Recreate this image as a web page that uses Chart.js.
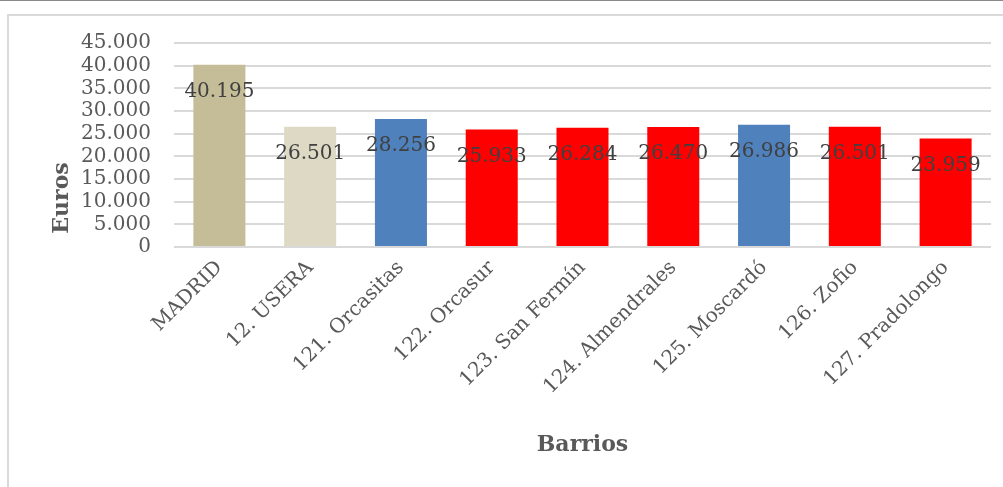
<!DOCTYPE html>
<html>
<head>
<meta charset="utf-8">
<script src="https://cdn.jsdelivr.net/npm/chart.js@4/dist/chart.umd.min.js"></script>
<style>
  body { margin: 0; background: #fff; }
  #wrap { position: relative; width: 1003px; height: 487px; overflow: hidden; }
  #topline { position: absolute; left: 0; top: 0; width: 1003px; height: 1px; background: #888; }
  #frame { position: absolute; left: 7px; top: 14px; width: 1100px; height: 600px;
           border-left: 2px solid #d9d9d9; border-top: 2px solid #d9d9d9; }
  canvas { position: absolute; left: 0; top: 0; }
</style>
</head>
<body>
<div id="wrap">
  <div id="topline"></div>
  <div id="frame"></div>
  <canvas id="chart" width="1003" height="487"></canvas>
</div>
<script>
const barrios = ["MADRID", "12. USERA", "121. Orcasitas", "122. Orcasur", "123. San Fermín",
  "124. Almendrales", "125. Moscardó", "126. Zofio", "127. Pradolongo"];
const renta = [40195, 26501, 28256, 25933, 26284, 26470, 26986, 26501, 23959];
const colores = ["#C4BD97", "#DDD9C4", "#4F81BD", "#FF0000", "#FF0000",
  "#FF0000", "#4F81BD", "#FF0000", "#FF0000"];

const serif = "'DejaVu Serif', serif";
const fmt = (v) => Math.round(v).toString().replace(/\B(?=(\d{3})+(?!\d))/g, ".");

// value labels just inside the bar top, like Excel's "inside end"
const valueLabels = {
  id: "valueLabels",
  afterDatasetsDraw(chart) {
    const ctx = chart.ctx;
    const meta = chart.getDatasetMeta(0);
    ctx.save();
    ctx.font = "20px " + serif;
    ctx.fillStyle = "#404040";
    ctx.textAlign = "center";
    ctx.textBaseline = "middle";
    meta.data.forEach((bar, i) => {
      ctx.fillText(fmt(renta[i]), bar.x, bar.y + 27);
    });
    ctx.restore();
  }
};

// axis titles, placed where the original has them
const axisTitles = {
  id: "axisTitles",
  afterDraw(chart) {
    const ctx = chart.ctx;
    const area = chart.chartArea;
    ctx.save();
    ctx.font = "bold 22px " + serif;
    ctx.fillStyle = "#595959";
    ctx.textAlign = "center";
    ctx.textBaseline = "middle";
    ctx.fillText("Barrios", (area.left + area.right) / 2, 445);
    ctx.translate(62, 198);
    ctx.rotate(-Math.PI / 2);
    ctx.fillText("Euros", 0, 0);
    ctx.restore();
  }
};

new Chart(document.getElementById("chart"), {
  type: "bar",
  data: {
    labels: barrios,
    datasets: [{
      data: renta,
      backgroundColor: colores,
      borderWidth: 0,
      barPercentage: 0.573,
      categoryPercentage: 1
    }]
  },
  options: {
    responsive: false,
    animation: false,
    layout: { padding: { left: 20, right: 12, top: 43, bottom: 0 } },
    plugins: { legend: { display: false }, tooltip: { enabled: false } },
    scales: {
      x: {
        grid: { display: false },
        border: { display: false },
        ticks: {
          autoSkip: false,
          minRotation: 45,
          maxRotation: 45,
          padding: 1,
          color: "#595959",
          font: { family: serif, size: 20 }
        },
        afterFit(scale) { scale.height = 240; }
      },
      y: {
        min: 0,
        max: 45000,
        grid: { color: "#d9d9d9", lineWidth: 2, drawTicks: false },
        border: { display: false },
        ticks: {
          autoSkip: false,
          stepSize: 5000,
          padding: 23,
          color: "#595959",
          font: { family: serif, size: 20 },
          callback: (v) => fmt(v)
        },
        afterFit(scale) { scale.width = 154; }
      }
    }
  },
  plugins: [valueLabels, axisTitles]
});
</script>
</body>
</html>
